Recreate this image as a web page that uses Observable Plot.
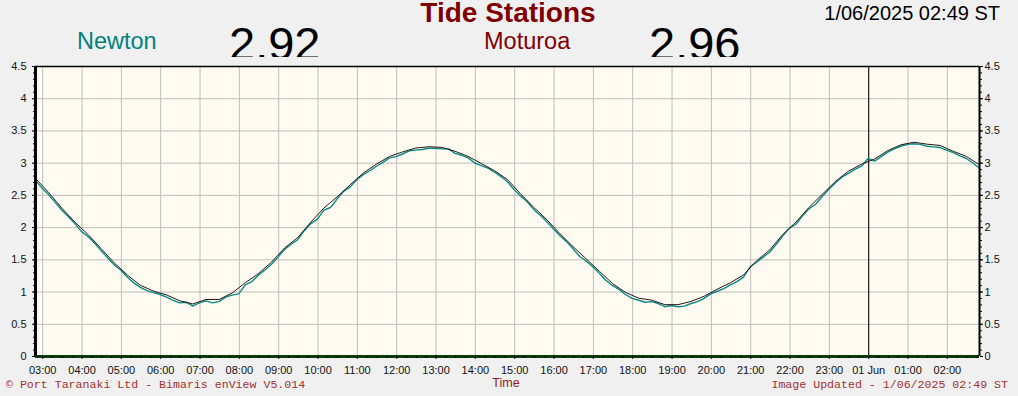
<!DOCTYPE html>
<html><head><meta charset="utf-8">
<script src="https://cdn.jsdelivr.net/npm/d3@7"></script>
<script src="https://cdn.jsdelivr.net/npm/@observablehq/plot@0.6"></script>
<style>
body{margin:0;background:#f0f0f0;font-family:Arial,"Liberation Sans",sans-serif;}
#wrap{position:relative;width:1018px;height:396px;overflow:hidden;background:#f0f0f0;}
#chart{position:absolute;left:0;top:0;}
.t{position:absolute;white-space:nowrap;line-height:1.15;}
#hdr{position:absolute;left:0;top:0;width:1018px;height:57px;overflow:hidden;}
.mono{font-family:"Liberation Mono","DejaVu Sans Mono",monospace;font-size:11.6px;color:#a03030;}
</style></head><body>
<div id="wrap">
  <div id="chart"></div>
  <div id="hdr">
    <div class="t" style="left:77px;top:28px;font-size:23.5px;color:#008080;">Newton</div>
    <div class="t" id="nval" style="left:229px;top:17px;font-size:47px;color:#000;"></div>
    <div class="t" style="left:484px;top:28px;font-size:23.5px;color:#800000;">Moturoa</div>
    <div class="t" id="mval" style="left:649px;top:17px;font-size:47px;color:#000;"></div>
  </div>
  <div class="t" style="left:508px;top:0px;line-height:0.9;transform:translateX(-50%);font-size:28px;font-weight:bold;color:#800000;">Tide Stations</div>
  <div class="t" id="stamp" style="right:18px;top:2px;font-size:20px;color:#000;"></div>
  <div class="t mono" style="left:6px;top:378px;">© Port Taranaki Ltd - Bimaris enView V5.014</div>
  <div class="t" style="left:506px;top:376px;transform:translateX(-50%);font-size:12.5px;color:#8b1a1a;">Time</div>
  <div class="t mono" id="upd" style="right:10px;top:378px;"></div>
</div>
<script>
// ---- data ----
const stampText = "1/06/2025 02:49 ST";
const currentNewton = "2.92";
const currentMoturoa = "2.96";
const startUTC = [2025, 4, 31, 2, 49];   // 31 May 2025 02:49
const endUTC = [2025, 5, 1, 2, 49];      // 1 Jun 2025 02:49
const newtonStepMin = 10;
const moturoaStepMin = 20;

// Newton tide height (m), every 10 minutes from 02:49
const newton = [
  2.74,2.62,2.52,2.40,2.28,2.18,2.07,1.95,1.87,1.77,
  1.65,1.54,1.43,1.35,1.24,1.15,1.08,1.03,1.00,0.97,
  0.93,0.88,0.84,0.85,0.79,0.84,0.87,0.84,0.86,0.93,
  0.96,0.98,1.12,1.17,1.27,1.35,1.44,1.55,1.67,1.75,
  1.82,1.96,2.07,2.14,2.28,2.32,2.45,2.57,2.64,2.75,
  2.83,2.89,2.96,3.02,3.09,3.11,3.15,3.20,3.21,3.22,
  3.24,3.24,3.23,3.23,3.16,3.13,3.09,3.01,2.97,2.93,
  2.87,2.80,2.72,2.60,2.50,2.41,2.29,2.20,2.10,1.99,
  1.88,1.79,1.68,1.56,1.49,1.40,1.30,1.19,1.11,1.05,
  0.97,0.91,0.88,0.85,0.86,0.83,0.78,0.80,0.78,0.79,
  0.83,0.86,0.91,0.98,1.02,1.06,1.12,1.17,1.24,1.40,
  1.47,1.55,1.63,1.75,1.88,2.00,2.06,2.19,2.30,2.37,
  2.49,2.60,2.70,2.79,2.85,2.91,2.96,3.08,3.04,3.11,
  3.18,3.23,3.27,3.30,3.31,3.30,3.27,3.26,3.25,3.21,
  3.17,3.12,3.08,3.01,2.93
];
// Moturoa tide height (m), every 20 minutes from 02:49
const moturoa = [
  2.76,2.54,2.30,2.08,1.89,1.67,1.45,1.26,1.10,1.01,
  0.95,0.86,0.81,0.88,0.88,0.98,1.14,1.28,1.46,1.68,
  1.84,2.08,2.30,2.47,2.66,2.84,2.98,3.10,3.17,3.23,
  3.25,3.24,3.18,3.10,2.99,2.88,2.74,2.52,2.31,2.12,
  1.90,1.70,1.51,1.32,1.13,0.99,0.90,0.87,0.80,0.80,
  0.85,0.93,1.04,1.14,1.26,1.48,1.65,1.89,2.08,2.31,
  2.51,2.71,2.87,2.98,3.06,3.19,3.28,3.32,3.29,3.27,
  3.18,3.10,2.97
];
const xTickLabels = ["03:00","04:00","05:00","06:00","07:00","08:00","09:00","10:00","11:00","12:00",
  "13:00","14:00","15:00","16:00","17:00","18:00","19:00","20:00","21:00","22:00","23:00",
  "01 Jun","01:00","02:00"];
const yTicks = [0,0.5,1,1.5,2,2.5,3,3.5,4,4.5];
const yTickLabels = ["0","0.5","1","1.5","2","2.5","3","3.5","4","4.5"];
const dayBoundaryLabel = "01 Jun";

// ---- build ----
const t0 = new Date(Date.UTC(...startUTC));
const t1 = new Date(Date.UTC(...endUTC));
const firstHour = d3.utcHour.ceil(t0);
const hourTicks = xTickLabels.map((_, k) => d3.utcHour.offset(firstHour, k));
const midnight = hourTicks[xTickLabels.indexOf(dayBoundaryLabel)];
const newtonData = newton.map((v, i) => ({time: d3.utcMinute.offset(t0, i * newtonStepMin), value: v}));
const moturoaData = moturoa.map((v, i) => ({time: d3.utcMinute.offset(t0, i * moturoaStepMin), value: v}));
const minorY = d3.range(0, 46).map(k => k / 10);

document.getElementById("nval").textContent = currentNewton;
document.getElementById("mval").textContent = currentMoturoa;
document.getElementById("stamp").textContent = stampText;
document.getElementById("upd").textContent = "Image Updated - " + stampText;

const chart = Plot.plot({
  width: 1018, height: 396,
  marginTop: 66, marginBottom: 40, marginLeft: 35, marginRight: 39,
  style: {background: "transparent", fontFamily: "Arial, 'Liberation Sans', sans-serif", fontSize: "11px", color: "#000"},
  x: {type: "utc", domain: [t0, t1], label: null},
  y: {domain: [0, 4.5], label: null},
  marks: [
    Plot.frame({fill: "#fffbf0", stroke: null}),
    Plot.gridX({ticks: hourTicks, stroke: "#bdbdbd", strokeOpacity: 1, strokeWidth: 1}),
    Plot.gridY({ticks: yTicks, stroke: "#bdbdbd", strokeOpacity: 1, strokeWidth: 1}),
    Plot.ruleX([midnight], {stroke: "#000", strokeWidth: 1}),
    Plot.line(newtonData, {x: "time", y: "value", stroke: "#0a8a85", strokeWidth: 1.4, dy: 0.5}),
    Plot.line(moturoaData, {x: "time", y: "value", stroke: "#2a1515", strokeWidth: 1, dy: -0.3}),
    Plot.ruleY([4.5], {stroke: "#000", strokeWidth: 1.5}),
    Plot.ruleY([0], {stroke: "#0b3a0b", strokeWidth: 3}),
    Plot.ruleX([t0], {stroke: "#000", strokeWidth: 3}),
    Plot.ruleX([t1], {stroke: "#000", strokeWidth: 2}),
    Plot.axisX({ticks: hourTicks, tickSize: 3, tickPadding: 7, label: null,
      tickFormat: d => xTickLabels[hourTicks.findIndex(h => +h === +d)], fill: "#111"}),
    Plot.axisX({ticks: d3.utcMinute.every(15), tickSize: 2, fill: "none", label: null}),
    Plot.axisY({anchor: "left", ticks: yTicks, tickSize: 3, tickPadding: 6, label: null,
      tickFormat: d => yTickLabels[yTicks.indexOf(d)], fill: "#111"}),
    Plot.axisY({anchor: "left", ticks: minorY, tickSize: 2, fill: "none", label: null}),
    Plot.axisY({anchor: "right", ticks: yTicks, tickSize: 3, tickPadding: 2, label: null,
      tickFormat: d => yTickLabels[yTicks.indexOf(d)], fill: "#111"}),
    Plot.axisY({anchor: "right", ticks: minorY, tickSize: 2, fill: "none", label: null})
  ]
});
document.getElementById("chart").appendChild(chart);
</script>
</body></html>
